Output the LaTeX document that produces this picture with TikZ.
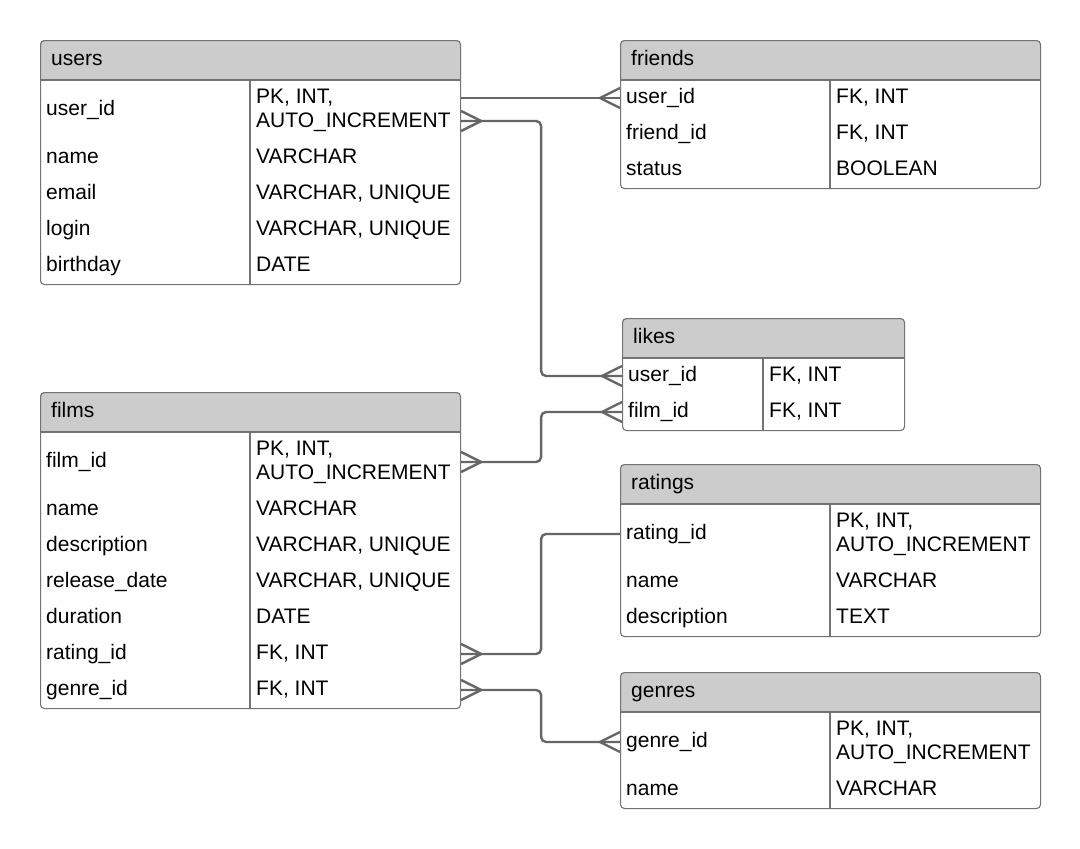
\documentclass[tikz,border=0pt]{standalone}
\usepackage{fontspec}
\setmainfont{Liberation Sans}
\usetikzlibrary{calc}

\tikzset{
  boxline/.style={draw=black!55, line width=1.1pt},
  headfill/.style={fill=black!20},
  frame/.style={boxline, rounded corners=4pt, inner sep=0pt, anchor=north west},
  cell/.style={anchor=west, inner sep=0pt, text height=15pt, text depth=4pt},
  cellml/.style={anchor=west, inner sep=0pt, align=left},
  conn/.style={draw=black!60, line width=2.4pt, rounded corners=5pt},
  crowR/.pic={\draw[conn, rounded corners=0pt] (0,-10) -- (20,0) -- (0,10);},
  crowL/.pic={\draw[conn, rounded corners=0pt] (0,-10) -- (-20,0) -- (0,10);},
}

% #1 name, #2 left, #3 top, #4 right, #5 bottom, #6 column divider, #7 title
\newcommand{\erdframe}[7]{%
  \begin{scope}
    \clip[rounded corners=4pt] (#2,#3) rectangle (#4,#5);
    \fill[white] (#2,#3) rectangle (#4,#5);
    \fill[headfill] (#2,#3) rectangle (#4,#3+40);
  \end{scope}
  \draw[boxline] (#2,#3+40) -- (#4,#3+40);
  \draw[boxline] (#6,#3+40) -- (#6,#5);
  \node[frame, minimum width=#4-#2, minimum height=#5-#3] (#1) at (#2,#3) {};
  \node[cell] (#1-title) at (#2+11,#3+20) {#7};
}

\begin{document}
\begin{tikzpicture}[x=1pt, y=-1pt, font=\fontsize{21}{24}\selectfont]
\fill[white] (0,0) rectangle (1080,849);
\useasboundingbox (0,0) rectangle (1080,849);

% users
\erdframe{users}{40}{40}{460}{284}{250}{users}
\node[cell]   (users-uid)     at (46,110)  {user\_id};
\node[cellml] (users-uid-t)   at (256,110) {PK, INT,\\AUTO\_INCREMENT};
\node[cell]   (users-name)    at (46,158)  {name};
\node[cell]   (users-name-t)  at (256,158) {VARCHAR};
\node[cell]   (users-email)   at (46,194)  {email};
\node[cell]   (users-email-t) at (256,194) {VARCHAR, UNIQUE};
\node[cell]   (users-login)   at (46,230)  {login};
\node[cell]   (users-login-t) at (256,230) {VARCHAR, UNIQUE};
\node[cell]   (users-bday)    at (46,266)  {birthday};
\node[cell]   (users-bday-t)  at (256,266) {DATE};

% friends
\erdframe{friends}{620}{40}{1040}{188}{830}{friends}
\node[cell] (friends-uid)    at (626,98)  {user\_id};
\node[cell] (friends-uid-t)  at (836,98)  {FK, INT};
\node[cell] (friends-fid)    at (626,134) {friend\_id};
\node[cell] (friends-fid-t)  at (836,134) {FK, INT};
\node[cell] (friends-st)     at (626,170) {status};
\node[cell] (friends-st-t)   at (836,170) {BOOLEAN};

% likes
\erdframe{likes}{622}{318}{904}{430}{763}{likes}
\node[cell] (likes-uid)   at (628,376) {user\_id};
\node[cell] (likes-uid-t) at (769,376) {FK, INT};
\node[cell] (likes-fid)   at (628,412) {film\_id};
\node[cell] (likes-fid-t) at (769,412) {FK, INT};

% films
\erdframe{films}{40}{392}{460}{708}{250}{films}
\node[cell]   (films-fid)    at (46,462)  {film\_id};
\node[cellml] (films-fid-t)  at (256,462) {PK, INT,\\AUTO\_INCREMENT};
\node[cell]   (films-name)   at (46,510)  {name};
\node[cell]   (films-name-t) at (256,510) {VARCHAR};
\node[cell]   (films-desc)   at (46,546)  {description};
\node[cell]   (films-desc-t) at (256,546) {VARCHAR, UNIQUE};
\node[cell]   (films-rel)    at (46,582)  {release\_date};
\node[cell]   (films-rel-t)  at (256,582) {VARCHAR, UNIQUE};
\node[cell]   (films-dur)    at (46,618)  {duration};
\node[cell]   (films-dur-t)  at (256,618) {DATE};
\node[cell]   (films-rid)    at (46,654)  {rating\_id};
\node[cell]   (films-rid-t)  at (256,654) {FK, INT};
\node[cell]   (films-gid)    at (46,690)  {genre\_id};
\node[cell]   (films-gid-t)  at (256,690) {FK, INT};

% ratings
\erdframe{ratings}{620}{464}{1040}{636}{830}{ratings}
\node[cell]   (ratings-rid)    at (626,534) {rating\_id};
\node[cellml] (ratings-rid-t)  at (836,534) {PK, INT,\\AUTO\_INCREMENT};
\node[cell]   (ratings-name)   at (626,582) {name};
\node[cell]   (ratings-name-t) at (836,582) {VARCHAR};
\node[cell]   (ratings-desc)   at (626,618) {description};
\node[cell]   (ratings-desc-t) at (836,618) {TEXT};

% genres
\erdframe{genres}{620}{672}{1040}{808}{830}{genres}
\node[cell]   (genres-gid)    at (626,742) {genre\_id};
\node[cellml] (genres-gid-t)  at (836,742) {PK, INT,\\AUTO\_INCREMENT};
\node[cell]   (genres-name)   at (626,790) {name};
\node[cell]   (genres-name-t) at (836,790) {VARCHAR};

% relationships
\draw[conn] (users.east |- friends-uid) -- (friends.west |- friends-uid);
\pic at (friends.west |- friends-uid) {crowL};

\draw[conn] ($(users.east |- users-uid)+(0,11)$) -- ++(80,0) |- (likes.west |- likes-uid);
\pic at ($(users.east |- users-uid)+(0,11)$) {crowR};
\pic at (likes.west |- likes-uid) {crowL};

\draw[conn] (films.east |- films-fid) -- ++(80,0) |- (likes.west |- likes-fid);
\pic at (films.east |- films-fid) {crowR};
\pic at (likes.west |- likes-fid) {crowL};

\draw[conn] (films.east |- films-rid) -- ++(80,0) |- (ratings.west |- ratings-rid);
\pic at (films.east |- films-rid) {crowR};

\draw[conn] (films.east |- films-gid) -- ++(80,0) |- (genres.west |- genres-gid);
\pic at (films.east |- films-gid) {crowR};
\pic at (genres.west |- genres-gid) {crowL};
\end{tikzpicture}
\end{document}
